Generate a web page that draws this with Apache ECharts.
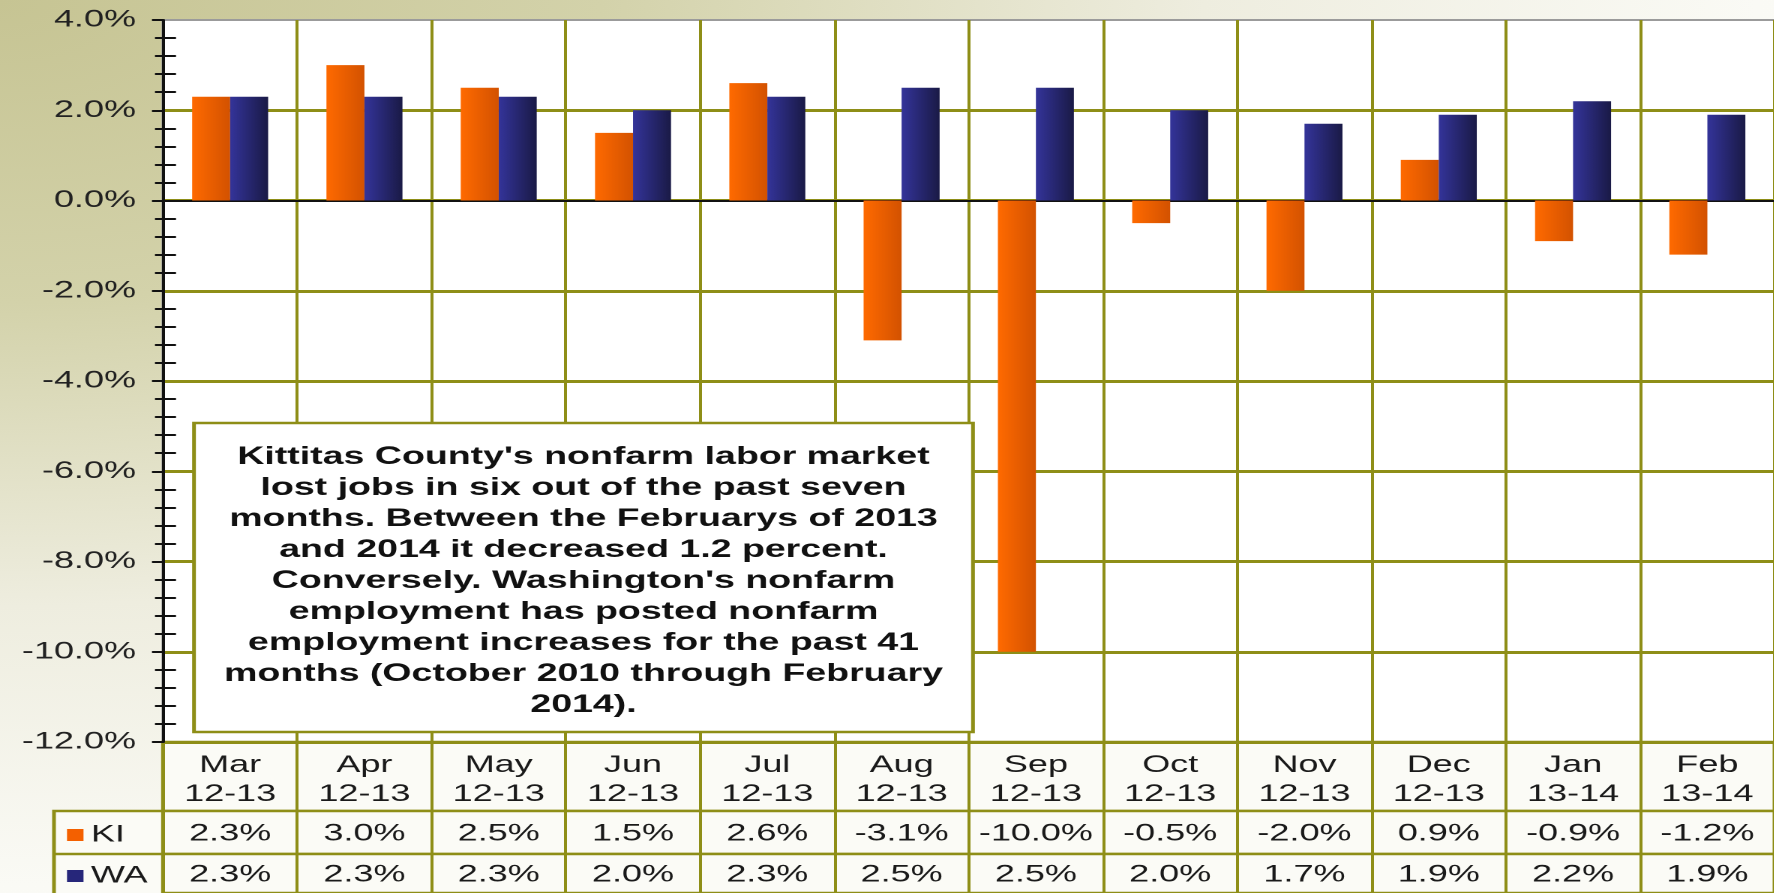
<!DOCTYPE html>
<html>
<head>
<meta charset="utf-8">
<script src="https://cdn.jsdelivr.net/npm/echarts@6/dist/echarts.min.js"></script>
<style>
html, body { margin: 0; padding: 0; overflow: hidden; }
body {
  width: 1774px; height: 893px;
  background: radial-gradient(ellipse farthest-corner at 0 0, #c6c493 0%, #d3d2aa 24%, #eeeddf 48%, #fafaf5 70%, #ffffff 100%);
}
/* the source picture is stretched sideways, so the chart is laid out narrow and widened */
#chart { width: 1182.67px; height: 893px; transform: scaleX(1.5); transform-origin: 0 0; }
</style>
</head>
<body>
<div id="chart"></div>
<script>
const monthNames = ['Mar', 'Apr', 'May', 'Jun', 'Jul', 'Aug', 'Sep', 'Oct', 'Nov', 'Dec', 'Jan', 'Feb'];
const periods = ['12-13', '12-13', '12-13', '12-13', '12-13', '12-13', '12-13', '12-13', '12-13', '12-13', '13-14', '13-14'];
const kiValues = [2.3, 3.0, 2.5, 1.5, 2.6, -3.1, -10.0, -0.5, -2.0, 0.9, -0.9, -1.2];
const waValues = [2.3, 2.3, 2.3, 2.0, 2.3, 2.5, 2.5, 2.0, 1.7, 1.9, 2.2, 1.9];
const yMin = -12, yMax = 4, yStep = 2;

const noteLines = [
  "Kittitas County's nonfarm labor market",
  'lost jobs in six out of the past seven',
  'months. Between the Februarys of 2013',
  'and 2014 it decreased 1.2 percent.',
  "Conversely. Washington's nonfarm",
  'employment has posted nonfarm',
  'employment increases for the past 41',
  'months (October 2010 through February',
  '2014).'
];

const SX = 1.5;
const OLIVE = '#8e8e17';
const FONT = 'Arial, "Liberation Sans", sans-serif';
const plotLeft = 163 / SX;
const plotW = 134.7 * 12 / SX;
const pct = v => v.toFixed(1) + '%';

const chart = echarts.init(document.getElementById('chart'), null, { devicePixelRatio: 2 });

function rowGrid(top, height) {
  return { left: plotLeft, width: plotW, top: top, height: height, show: true,
    borderColor: OLIVE, borderWidth: 2.5, backgroundColor: '#fbfbf6' };
}
function rowAxis(gi, fmt, margin) {
  return {
    type: 'category', gridIndex: gi, data: monthNames, position: 'bottom', boundaryGap: true,
    axisLine: { show: false }, axisTick: { show: false },
    splitLine: { show: true, interval: 0, lineStyle: { color: OLIVE, width: 2 } },
    axisLabel: { interval: 0, margin: margin, formatter: fmt, color: '#1a1a1a', fontFamily: FONT,
      fontSize: 24, lineHeight: 29, verticalAlign: 'middle', align: 'center' }
  };
}
function hiddenY(gi) {
  return { type: 'value', gridIndex: gi, show: false, min: 0, max: 1, splitLine: { show: false } };
}

const option = {
  animation: false,
  textStyle: { fontFamily: FONT },
  grid: [
    { left: plotLeft, width: plotW, top: 20, height: 722, show: true,
      borderColor: '#9b9b9b', borderWidth: 2, backgroundColor: '#ffffff' },
    rowGrid(742, 69),
    rowGrid(811, 43),
    rowGrid(854, 39)
  ],
  xAxis: [
    {
      type: 'category', gridIndex: 0, data: monthNames, boundaryGap: true,
      axisLine: { onZero: true, lineStyle: { color: '#111', width: 2 } },
      axisTick: { show: false }, axisLabel: { show: false },
      splitLine: { show: true, interval: 0, lineStyle: { color: OLIVE, width: 2 } }
    },
    rowAxis(1, (v, i) => monthNames[i] + '\n' + periods[i], -31),
    rowAxis(2, (v, i) => pct(kiValues[i]), -20),
    rowAxis(3, (v, i) => pct(waValues[i]), -18)
  ],
  yAxis: [
    {
      type: 'value', gridIndex: 0, min: yMin, max: yMax, interval: yStep,
      axisLine: { show: true, lineStyle: { color: '#111', width: 2 } },
      axisTick: { show: true, length: 11 / SX, lineStyle: { color: '#111', width: 2 } },
      minorTick: { show: true, splitNumber: 5, length: 8 / SX, lineStyle: { color: '#111', width: 2 } },
      splitLine: { show: true, showMaxLine: false, lineStyle: { color: OLIVE, width: 3 } },
      axisLabel: { formatter: v => pct(v), color: '#222', fontSize: 24, fontFamily: FONT, margin: 18 }
    },
    {
      type: 'value', gridIndex: 0, min: yMin, max: yMax, interval: yStep, position: 'left',
      axisLine: { show: false }, axisTick: { show: false, inside: true },
      minorTick: { show: true, splitNumber: 5, length: 13 / SX, lineStyle: { color: '#111', width: 2 } },
      splitLine: { show: false }, axisLabel: { show: false }
    },
    hiddenY(1), hiddenY(2), hiddenY(3)
  ],
  legend: {
    orient: 'vertical', left: 67 / SX, top: 823, padding: 0, itemGap: 17,
    itemWidth: 11, itemHeight: 12, icon: 'rect',
    textStyle: { color: '#1a1a1a', fontSize: 24, lineHeight: 24, fontFamily: FONT },
    data: [
      { name: 'KI', itemStyle: { color: '#f46000' } },
      { name: 'WA', itemStyle: { color: '#26267a' } }
    ]
  },
  series: [
    {
      name: 'KI', type: 'bar', xAxisIndex: 0, yAxisIndex: 0, data: kiValues,
      barWidth: 38 / SX, barGap: '0%',
      itemStyle: { color: new echarts.graphic.LinearGradient(0, 0, 1, 0, [
        { offset: 0, color: '#ff6a00' }, { offset: 1, color: '#d35200' }]) }
    },
    {
      name: 'WA', type: 'bar', xAxisIndex: 0, yAxisIndex: 0, data: waValues,
      barWidth: 38 / SX, barGap: '0%',
      itemStyle: { color: new echarts.graphic.LinearGradient(0, 0, 1, 0, [
        { offset: 0, color: '#34349a' }, { offset: 1, color: '#1a1a46' }]) }
    }
  ],
  graphic: [
    // legend cells left of the data table
    { type: 'rect', z: 1, shape: { x: 54 / SX, y: 811, width: (163 - 54) / SX, height: 90 },
      style: { fill: '#fbfbf6', stroke: OLIVE, lineWidth: 2.5 } },
    { type: 'line', z: 1, shape: { x1: 54 / SX, y1: 854, x2: 163 / SX, y2: 854 },
      style: { stroke: OLIVE, lineWidth: 2.5 } },
    // note box
    { type: 'rect', z: 10, shape: { x: 194 / SX, y: 423, width: (973 - 194) / SX, height: 309 },
      style: { fill: '#ffffff', stroke: OLIVE, lineWidth: 2.5 } },
    { type: 'text', z: 11, x: 583.5 / SX, y: 581,
      style: { text: noteLines.join('\n'), fill: '#111', font: 'bold 25px ' + FONT,
        textAlign: 'center', textVerticalAlign: 'middle', lineHeight: 31 } }
  ]
};
chart.setOption(option);
</script>
</body>
</html>
